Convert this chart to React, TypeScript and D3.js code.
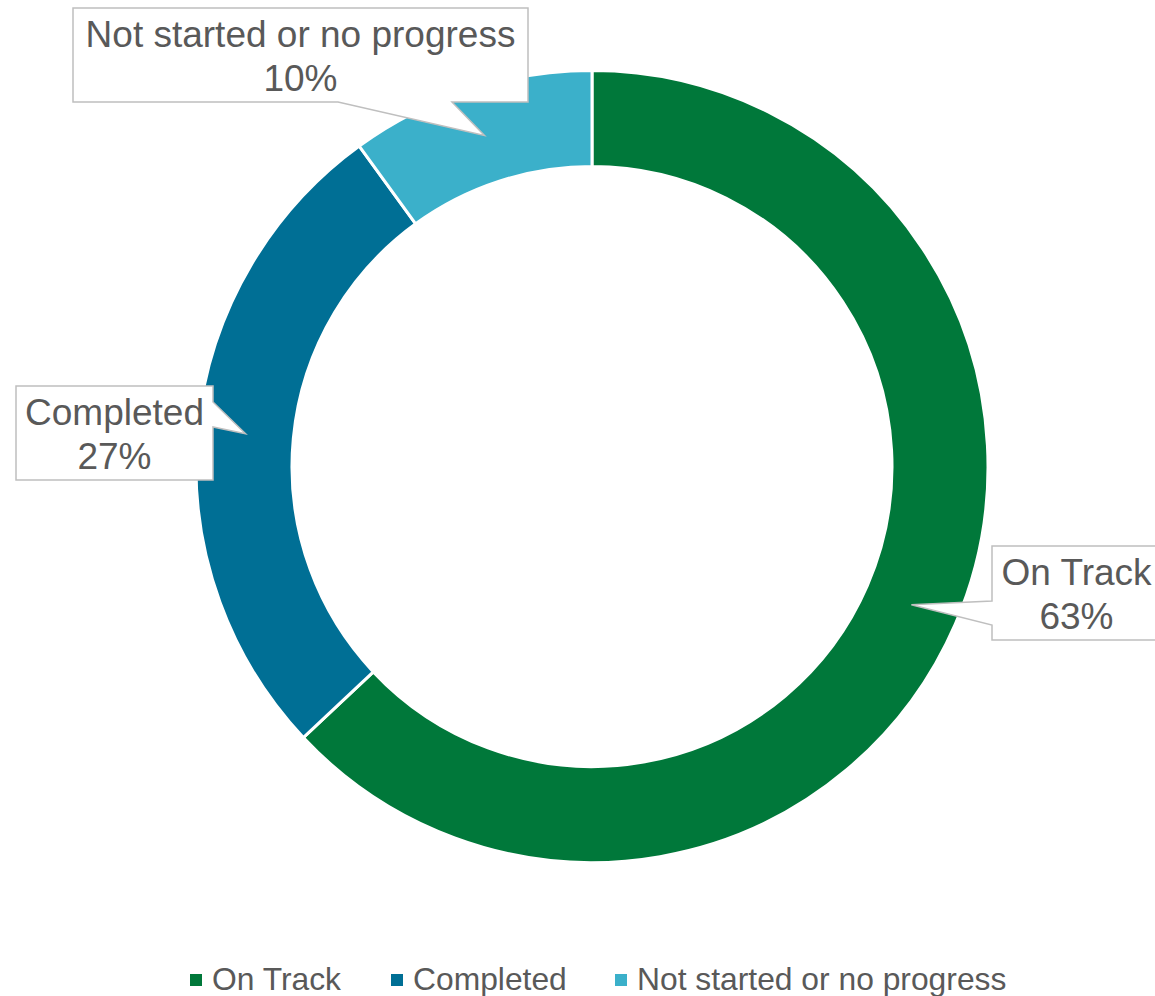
import React, { useEffect, useRef } from 'react';
import * as d3 from 'd3';

// chart data
const categories = ['On Track', 'Completed', 'Not started or no progress'];
const values = [63, 27, 10];
const colors = ['#00783A', '#006F95', '#3BB0CA'];

// callout boxes (annotation layout) and which edge the pointer leaves from
const callouts = [
  { x: 992, y: 546, w: 169, h: 94, edge: 'left', b0: 601, b1: 625 },
  { x: 16, y: 386, w: 197, h: 94, edge: 'right', b0: 402, b1: 427 },
  { x: 73, y: 8, w: 455, h: 94, edge: 'bottom', b0: 338, b1: 452 },
];

const legendX = [190, 391, 615];

const W = 1155;
const H = 996;
const FONT = '"Liberation Sans", Arial, sans-serif';

const App: React.FC = () => {
  const svgRef = useRef<SVGSVGElement>(null);

  useEffect(() => {
    if (!svgRef.current) return;
    const svg = d3.select(svgRef.current);
    svg.selectAll('*').remove();

    const cx = 592;
    const cy = 466.5;
    const outerR = 396;
    const innerR = 300;

    const pie = d3.pie<number>().sort(null).value(d => d);
    const arcs = pie(values);
    const arc = d3.arc<d3.PieArcDatum<number>>().innerRadius(innerR).outerRadius(outerR);

    const g = svg.append('g').attr('transform', `translate(${cx}, ${cy})`);

    g.selectAll('path.slice')
      .data(arcs)
      .join('path')
      .attr('class', 'slice')
      .attr('d', arc)
      .attr('fill', (_, i) => colors[i])
      .attr('stroke', '#fff')
      .attr('stroke-width', 3);

    // callouts
    const total = d3.sum(values);
    arcs.forEach((a, i) => {
      const c = callouts[i];
      const [tx, ty] = arc.centroid(a);
      const tipX = cx + tx;
      const tipY = cy + ty;
      const x0 = c.x, y0 = c.y, x1 = c.x + c.w, y1 = c.y + c.h;
      let pts: [number, number][];
      if (c.edge === 'left') {
        pts = [[x0, y0], [x1, y0], [x1, y1], [x0, y1], [x0, c.b1], [tipX, tipY], [x0, c.b0]];
      } else if (c.edge === 'right') {
        pts = [[x0, y0], [x1, y0], [x1, c.b0], [tipX, tipY], [x1, c.b1], [x1, y1], [x0, y1]];
      } else {
        pts = [[x0, y0], [x1, y0], [x1, y1], [c.b1, y1], [tipX, tipY], [c.b0, y1], [x0, y1]];
      }
      svg.append('path')
        .attr('d', d3.line()(pts) + 'Z')
        .attr('fill', '#fff')
        .attr('stroke', '#BFBFBF')
        .attr('stroke-width', 1.5);

      const lx = c.x + c.w / 2;
      const pct = Math.round((values[i] / total) * 100);
      svg.append('text')
        .attr('x', lx)
        .attr('y', c.y + 39)
        .attr('text-anchor', 'middle')
        .attr('font-family', FONT)
        .attr('font-size', 37)
        .attr('fill', '#595959')
        .text(categories[i]);
      svg.append('text')
        .attr('x', lx)
        .attr('y', c.y + 83)
        .attr('text-anchor', 'middle')
        .attr('font-family', FONT)
        .attr('font-size', 37)
        .attr('fill', '#595959')
        .text(`${pct}%`);
    });

    // legend
    const legend = svg.append('g');
    categories.forEach((cat, i) => {
      legend.append('rect')
        .attr('x', legendX[i])
        .attr('y', 974)
        .attr('width', 12)
        .attr('height', 12)
        .attr('fill', colors[i]);
      legend.append('text')
        .attr('x', legendX[i] + 22)
        .attr('y', 990)
        .attr('font-family', FONT)
        .attr('font-size', 31.8)
        .attr('fill', '#595959')
        .text(cat);
    });
  }, []);

  return (
    <svg
      ref={svgRef}
      width={W}
      height={H}
      style={{ position: 'absolute', left: 0, top: 0, display: 'block', background: '#fff' }}
    />
  );
};

export default App;
